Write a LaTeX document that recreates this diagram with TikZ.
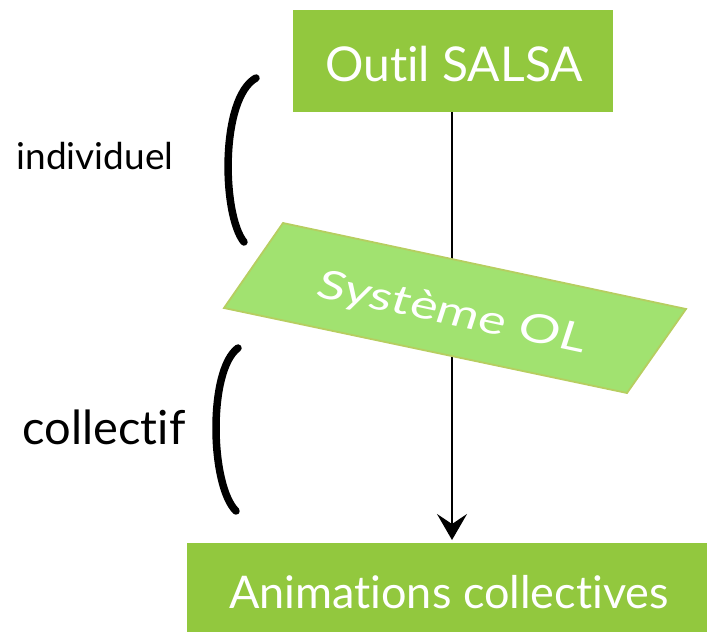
\documentclass[tikz,border=0pt]{standalone}
\usepackage{fontspec}
\setmainfont{Lato}[Ligatures={NoCommon}]
\usetikzlibrary{arrows.meta}
\definecolor{boxgreen}{RGB}{146,200,62}
\definecolor{planegreen}{RGB}{161,226,112}
\definecolor{planeedge}{RGB}{182,206,96}
\tikzset{
  greenbox/.style={fill=boxgreen, draw=none},
  boxtext/.style={text=white, font=\fontsize{48}{52}\selectfont},
  bracket/.style={line width=7.5pt, line cap=round, black},
  sidelabel/.style={text=black, anchor=center},
}
\begin{document}
\begin{tikzpicture}[x=1pt,y=-1pt]
\useasboundingbox (0,0) rectangle (707,632);
% boxes
\fill[greenbox] (293,10) rectangle (613,112);
\node[boxtext] (top) at (454,64) {Outil SALSA};
\coordinate (topb) at (452,112);
\fill[greenbox] (187,543) rectangle (707,632);
\node[boxtext, font=\fontsize{45}{50}\selectfont] (bot) at (449,592) {Animations collectives};
\coordinate (arrtip) at (452,540);
% arrow
\draw[line width=1.3pt, -{Stealth[length=26pt,width=30pt,inset=10pt]}] (topb) -- (arrtip);
% plane
\filldraw[fill=planegreen, draw=planeedge, line width=1.8pt]
  (283,223) -- (686,309) -- (627,393) -- (224,308) -- cycle;
\node[text=white, font=\fontsize{40}{44}\selectfont, rotate=-12, xscale=1.3, xslant=0.08] (ol) at (452,314) {Système OL};
% brackets
\draw[bracket] (256,78) .. controls (220,98) and (222,215) .. (244,242);
\draw[bracket] (238,348) .. controls (208,370) and (210,485) .. (236,511);
% labels
\node[sidelabel, font=\fontsize{37}{40}\selectfont] (ind) at (95,156) {individuel};
\node[sidelabel, font=\fontsize{47}{50}\selectfont] (col) at (104,427) {collectif};
\end{tikzpicture}
\end{document}
